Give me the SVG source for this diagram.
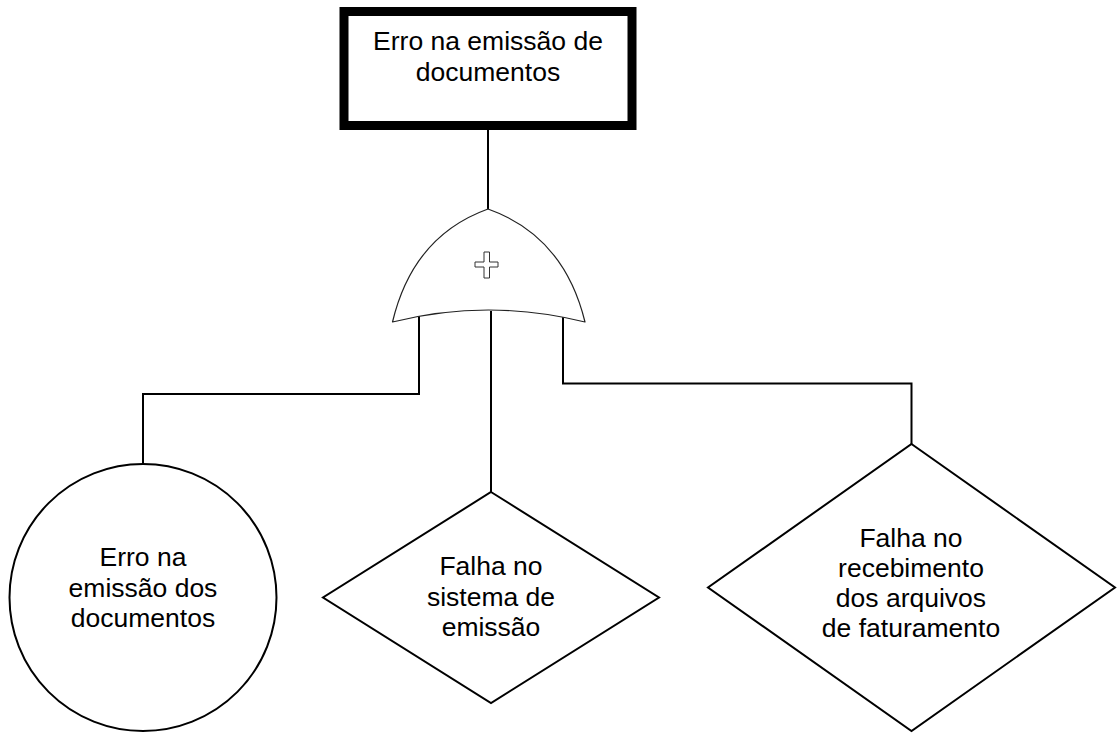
<svg xmlns="http://www.w3.org/2000/svg" width="1117" height="733" viewBox="0 0 1117 733">
  <style>
    .label { font-family: "Liberation Sans", Arial, sans-serif; font-size: 26.5px; fill: #000; text-anchor: middle; }
    .shape { fill: #fff; stroke: #000; stroke-width: 2; }
    .gate { fill: #fff; stroke: #222; stroke-width: 1.2; stroke-linejoin: round; }
    .wire { fill: none; stroke: #000; stroke-width: 2; }
  </style>
  <rect width="1117" height="733" fill="#fff"/>

  <!-- connectors -->
  <g id="connectors">
    <line class="wire" x1="488" y1="130" x2="488" y2="210"/>
    <polyline class="wire" points="419,314 419,394 143,394 143,464"/>
    <line class="wire" x1="491" y1="311" x2="491" y2="492"/>
    <polyline class="wire" points="563,316 563,383.5 911.5,383.5 911.5,444"/>
  </g>

  <!-- top event -->
  <g id="top-event">
    <rect x="344" y="11.5" width="288" height="114" fill="#fff" stroke="#000" stroke-width="9"/>
    <text class="label" x="488" y="50">Erro na emissão de</text>
    <text class="label" x="488" y="81">documentos</text>
  </g>

  <!-- OR gate -->
  <g id="or-gate">
    <path class="gate" d="M488,209 Q413,236 392.5,322 Q488,298 585,322 Q564,236 488,209 Z"/>
    <polygon fill="#fff" stroke="#333" stroke-width="1" points="484,252 489.5,252 489.5,262 498,262 498,267 489.5,267 489.5,278 484,278 484,267 475,267 475,262 484,262"/>
  </g>

  <!-- basic event -->
  <g id="event-emissao-documentos">
    <circle class="shape" cx="143" cy="597.5" r="133.5"/>
    <text class="label" x="143" y="566">Erro na</text>
    <text class="label" x="143" y="596.5">emissão dos</text>
    <text class="label" x="143" y="627">documentos</text>
  </g>

  <!-- undeveloped event: system failure -->
  <g id="event-sistema-emissao">
    <polygon class="shape" points="491,492 659,597.5 491,703 323,597.5"/>
    <text class="label" x="491" y="575">Falha no</text>
    <text class="label" x="491" y="605.5">sistema de</text>
    <text class="label" x="491" y="636">emissão</text>
  </g>

  <!-- undeveloped event: billing files -->
  <g id="event-arquivos-faturamento">
    <polygon class="shape" points="911.5,444 1115,587.5 911.5,731 708,587.5"/>
    <text class="label" x="911" y="547">Falha no</text>
    <text class="label" x="911" y="577">recebimento</text>
    <text class="label" x="911" y="607">dos arquivos</text>
    <text class="label" x="911" y="637">de faturamento</text>
  </g>
</svg>
